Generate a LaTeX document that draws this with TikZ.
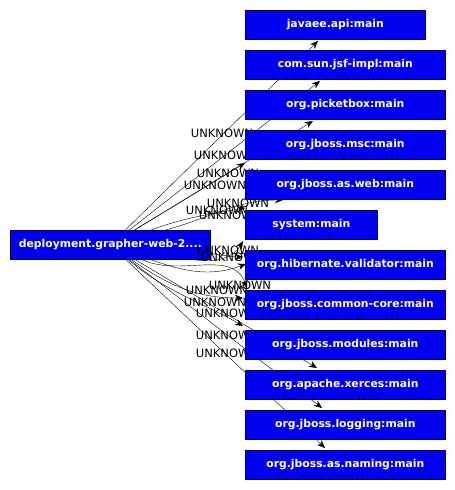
\documentclass[tikz,border=0pt]{standalone}
\usepackage{fontspec}
\setmainfont{DejaVu Sans}
\usetikzlibrary{arrows.meta}
\definecolor{modblue}{RGB}{0,0,238}
\definecolor{modedge}{RGB}{0,0,90}
\tikzset{
  modbox/.style={rectangle, draw=modedge, line width=0.6pt, fill=modblue,
    text=white, font=\fontsize{10.8}{12}\selectfont\bfseries,
    minimum height=29pt, inner sep=0pt, anchor=north west},
  depbox/.style={modbox, minimum width=200pt},
  lbl/.style={font=\fontsize{11.5}{12}\selectfont, inner sep=0pt},
  uses/.style={-{Stealth[length=8pt, width=6.5pt]}, line width=0.4pt, draw=black},
}
\begin{document}
\begin{tikzpicture}[x=1pt, y=-1pt]
  \useasboundingbox (0,0) rectangle (455,490);
  \node[depbox] (dep) at (10,230) {deployment.grapher-web-2....};
  % edge labels
  \foreach \nm/\x/\y in {u1/222/133, u2/225/155, u3/228/173, u4/215/185,
      u5/238/203, u6/217/210, u7/230/215, u8/228/250, u9/232/257,
      u10/240/285, u11/217/290, u12/215/302, u13/227/313, u14/227/335,
      u15/227/353}
    \node[lbl] (\nm) at (\x,\y) {UNKNOWN};
  % arrow ends
  \coordinate (t-javaee) at (318,41);
  \coordinate (t-jsf) at (320,81);
  \coordinate (t-pbox) at (313,121);
  \coordinate (t-msc) at (245,163);
  \coordinate (t-web) at (283,200);
  \coordinate (t-sys1) at (245,208);
  \coordinate (t-sys2) at (243,241);
  \coordinate (t-hib1) at (243,257);
  \coordinate (t-hib2) at (246,264);
  \coordinate (t-cc1) at (247,288);
  \coordinate (t-cc2) at (243,298);
  \coordinate (t-mod) at (243,326);
  \coordinate (t-xerces) at (317,368);
  \coordinate (t-log) at (322,408);
  \coordinate (t-naming) at (325,448);
  % edges
  \draw[uses] (dep) -- (t-javaee);
  \draw[uses] (dep) -- (t-jsf);
  \draw[uses] (dep) -- (t-pbox);
  \draw[uses] (dep) -- (t-msc);
  \draw[uses] (dep) to[out=15, in=180] (t-web);
  \draw[uses] (dep) to[out=20, in=190] (t-sys1);
  \draw[uses] (dep) to[out=-10, in=-120] (t-sys2);
  \draw[uses] (dep) to[out=-5, in=180] (t-hib1);
  \draw[uses] (dep) to[out=-20, in=200] (t-hib2);
  \draw[uses] (dep) to[out=-25, in=110] (t-cc1);
  \draw[uses] (dep) to[out=-35, in=180] (t-cc2);
  \draw[uses] (dep) to[out=-40, in=150] (t-mod);
  \draw[uses] (dep) -- (t-xerces);
  \draw[uses] (dep) -- (t-log);
  \draw[uses] (dep) -- (t-naming);
  % modules
  \foreach \nm/\y/\w/\txt in {javaee/10/180/{javaee.api:main},
      jsf/50/200/{com.sun.jsf-impl:main}, pbox/90/200/{org.picketbox:main},
      msc/130/200/{org.jboss.msc:main}, web/170/200/{org.jboss.as.web:main},
      sys/210/132/{system:main}, hib/250/200/{org.hibernate.validator:main},
      cc/290/200/{org.jboss.common-core:main}, mod/330/200/{org.jboss.modules:main},
      xerces/370/200/{org.apache.xerces:main}, log/410/200/{org.jboss.logging:main},
      naming/450/200/{org.jboss.as.naming:main}}
    \node[modbox, minimum width=\w pt] (\nm) at (245,\y) {\txt};
\end{tikzpicture}
\end{document}
